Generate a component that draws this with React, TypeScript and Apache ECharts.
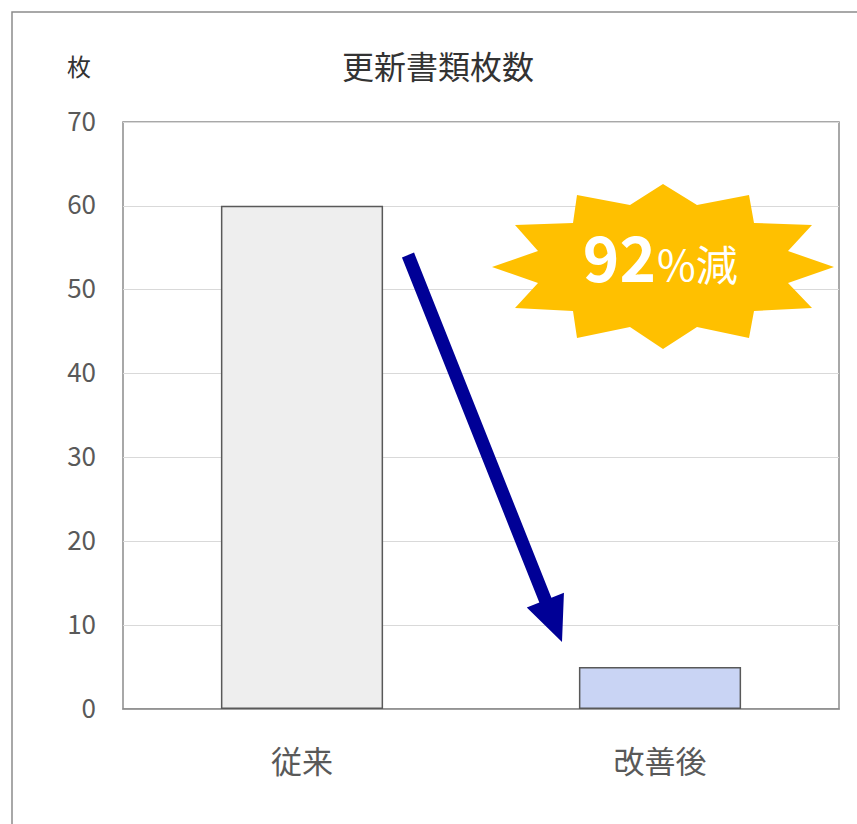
import React, { useEffect, useRef } from "react";
import * as echarts from "echarts";

const categories = ["従来", "改善後"];
const values = [60, 5];
const barColors = ["#eeeeee", "#c9d4f4"];
const yTicks = [0, 10, 20, 30, 40, 50, 60, 70];
const titleText = "更新書類枚数";
const unitText = "枚";
const badgeBig = "92";
const badgeSmall = "%減";

const starPoints: number[][] = [
  [663, 184], [697, 205], [749, 195], [754, 223], [812, 225], [788, 251],
  [834, 267], [788, 283], [812, 308], [754, 311], [749, 338], [697, 327],
  [663, 349], [630, 327], [577, 338], [573, 311], [515, 308], [538, 283],
  [492, 267], [538, 251], [515, 225], [573, 223], [577, 195], [630, 205],
];

function arrowPoints(tail: number[], tip: number[], halfShaft: number, headLen: number, halfHead: number) {
  const dx = tip[0] - tail[0];
  const dy = tip[1] - tail[1];
  const len = Math.sqrt(dx * dx + dy * dy);
  const ux = dx / len, uy = dy / len;
  const nx = -uy, ny = ux;
  const bx = tip[0] - ux * headLen, by = tip[1] - uy * headLen;
  return [
    [tail[0] + nx * halfShaft, tail[1] + ny * halfShaft],
    [bx + nx * halfShaft, by + ny * halfShaft],
    [bx + nx * halfHead, by + ny * halfHead],
    tip,
    [bx - nx * halfHead, by - ny * halfHead],
    [bx - nx * halfShaft, by - ny * halfShaft],
    [tail[0] - nx * halfShaft, tail[1] - ny * halfShaft],
  ];
}

const FONT = "'Noto Sans CJK JP', 'Noto Sans', sans-serif";

export default function App() {
  const ref = useRef<HTMLDivElement>(null);
  useEffect(() => {
    if (!ref.current) return;
    const chart = echarts.init(ref.current, undefined, { renderer: "svg" });
    chart.setOption({
      animation: false,
      backgroundColor: "#ffffff",
      textStyle: { fontFamily: FONT },
      title: [
        {
          text: titleText,
          left: 433,
          top: 44,
          textAlign: "center",
          textStyle: { fontSize: 32, fontWeight: "normal", color: "#333333", fontFamily: FONT },
        },
        {
          text: unitText,
          left: 62,
          top: 48,
          textStyle: { fontSize: 24, fontWeight: "normal", color: "#333333", fontFamily: FONT },
        },
      ],
      grid: {
        left: 123,
        top: 122,
        right: 18,
        bottom: 115,
        show: true,
        borderColor: "#8c8c8c",
        borderWidth: 1.5,
        containLabel: false,
      },
      xAxis: {
        type: "category",
        data: categories,
        axisTick: { show: false },
        axisLine: { lineStyle: { color: "#8c8c8c", width: 1.5 } },
        axisLabel: { fontSize: 31, color: "#595959", margin: 35, fontFamily: FONT },
      },
      yAxis: {
        type: "value",
        min: yTicks[0],
        max: yTicks[yTicks.length - 1],
        interval: 10,
        axisLine: { show: false },
        axisTick: { show: false },
        splitLine: { lineStyle: { color: "#d9d9d9", width: 1 } },
        axisLabel: {
          margin: 27,
          formatter: "{a|{value}}",
          rich: {
            a: {
              fontSize: 26,
              color: "#595959",
              fontFamily: FONT,
              padding: [0, 0, 6, 0],
            },
          },
        },
      },
      series: [
        {
          type: "bar",
          barWidth: "45.3%",
          data: values.map((v, i) => ({
            value: v,
            itemStyle: { color: barColors[i], borderColor: "#595959", borderWidth: 1.5 },
          })),
        },
      ],
      graphic: [
        {
          type: "rect",
          shape: { x: 12, y: 12, width: 900, height: 900 },
          style: { fill: "none", stroke: "#8c8c8c", lineWidth: 1.5 },
          silent: true,
        },
        {
          type: "polygon",
          shape: { points: starPoints },
          style: { fill: "#ffc000" },
          z: 10,
        },
        {
          type: "text",
          x: 656,
          y: 255,
          style: {
            text: badgeBig,
            fontSize: 62,
            fontWeight: "bold",
            fill: "#ffffff",
            align: "right",
            verticalAlign: "middle",
            fontFamily: FONT,
          },
          z: 11,
        },
        {
          type: "text",
          x: 657,
          y: 262,
          style: {
            text: badgeSmall,
            fontSize: 42,
            fill: "#ffffff",
            align: "left",
            verticalAlign: "middle",
            fontFamily: FONT,
          },
          z: 11,
        },
        {
          type: "polygon",
          shape: { points: arrowPoints([408, 255], [562, 642], 6.5, 45, 20) },
          style: { fill: "#000096" },
          z: 10,
        },
      ],
    });
    return () => chart.dispose();
  }, []);
  return (
    <div
      ref={ref}
      style={{ position: "absolute", left: 0, top: 0, width: 857, height: 824 }}
    />
  );
}
